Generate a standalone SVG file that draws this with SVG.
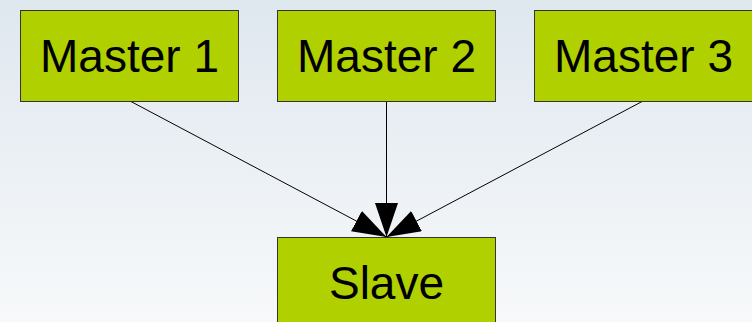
<svg xmlns="http://www.w3.org/2000/svg" width="752" height="322" viewBox="0 0 752 322">
<defs>
<linearGradient id="bg" x1="0" y1="0" x2="0" y2="1">
<stop offset="0" stop-color="#dfe7ef"/>
<stop offset="1" stop-color="#f7f9fa"/>
</linearGradient>
<marker id="arrow" markerUnits="userSpaceOnUse" markerWidth="36" markerHeight="24" refX="34" refY="11.5" orient="auto" viewBox="0 0 36 24">
<path d="M0,0 L34,11.5 L0,23 z" fill="#000"/>
</marker>
<style>
.box{fill:#b0d000;stroke:#333;stroke-width:1}
.lbl{font-family:"Liberation Sans",Arial,sans-serif;font-size:46px;fill:#000;text-anchor:middle}
.edge{stroke:#000;stroke-width:1;fill:none;marker-end:url(#arrow)}
</style>
</defs>
<rect x="0" y="0" width="752" height="322" fill="url(#bg)"/>
<g id="connectors">
<line class="edge" x1="130" y1="101" x2="386.5" y2="237"/>
<line class="edge" x1="386.5" y1="101" x2="386.5" y2="237"/>
<line class="edge" x1="643" y1="101" x2="386.5" y2="237"/>
</g>
<g id="master1">
<rect class="box" x="20.5" y="10.5" width="218" height="91"/>
<text class="lbl" x="129.5" y="72">Master 1</text>
</g>
<g id="master2">
<rect class="box" x="277.5" y="10.5" width="218" height="91"/>
<text class="lbl" x="386.5" y="72">Master 2</text>
</g>
<g id="master3">
<rect class="box" x="534.5" y="10.5" width="218" height="91"/>
<text class="lbl" x="643.5" y="72">Master 3</text>
</g>
<g id="slave">
<rect class="box" x="277.5" y="237.5" width="218" height="91"/>
<text class="lbl" x="386.5" y="299">Slave</text>
</g>
</svg>
